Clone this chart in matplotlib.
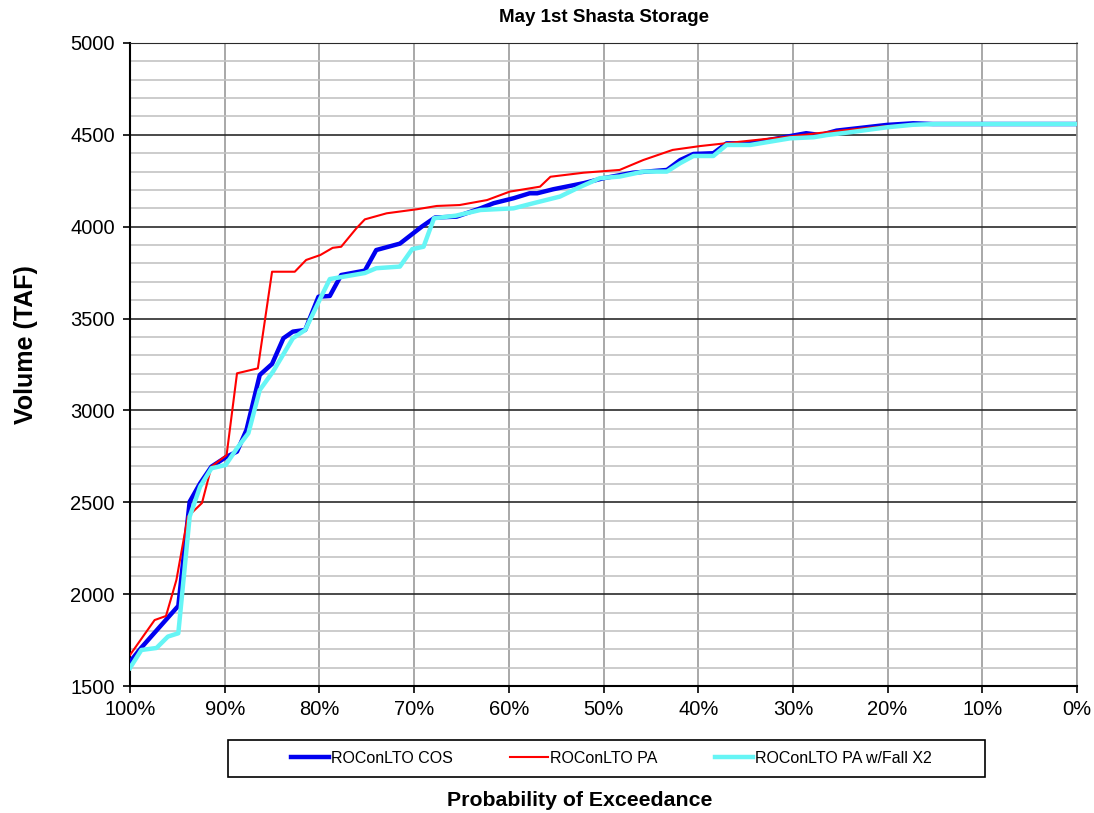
import numpy as np
from matplotlib import pyplot as plt
from matplotlib.ticker import MultipleLocator, FuncFormatter
from matplotlib.patches import Rectangle

plt.rcParams['font.family'] = ['Liberation Sans', 'DejaVu Sans']

# exceedance probability (%) and May 1st storage (TAF)
cos_pct = [100, 98.8, 94.9, 93.7, 92.6, 91.4, 89.8, 88.7, 87.7, 86.3, 85.0, 83.8,
           82.8, 81.5, 80.1, 78.9, 77.7, 75.2, 74.0, 71.5, 69.2, 67.8, 65.5, 63.0,
           61.6, 59.5, 57.8, 57.0, 55.3, 52.1, 50.0, 46.9, 43.3, 41.9, 40.5, 38.4,
           37.0, 34.5, 28.6, 27.1, 25.4, 20.1, 17.3, 15.2, 0]
cos_taf = [1632, 1709, 1936, 2503, 2603, 2694, 2748, 2776, 2894, 3193, 3253, 3393,
           3429, 3438, 3619, 3623, 3737, 3761, 3873, 3908, 4000, 4050, 4055, 4100,
           4128, 4155, 4182, 4182, 4204, 4237, 4264, 4294, 4309, 4363, 4396, 4400,
           4454, 4454, 4509, 4499, 4523, 4554, 4563, 4559, 4559]

pa_pct = [100, 97.4, 96.2, 95.1, 93.9, 92.4, 91.4, 89.8, 88.7, 86.5, 85.0, 82.6,
          81.4, 79.9, 78.6, 77.7, 76.1, 75.2, 72.9, 69.7, 67.6, 65.2, 62.3, 59.9,
          56.7, 55.6, 52.1, 48.3, 45.8, 42.7, 39.8, 36.6, 29.9, 25.0, 20.1, 16.0, 0]
pa_taf = [1669, 1859, 1881, 2077, 2422, 2496, 2694, 2757, 3202, 3229, 3755, 3755,
          3819, 3846, 3885, 3891, 3991, 4040, 4073, 4095, 4113, 4118, 4145, 4191,
          4218, 4272, 4294, 4309, 4363, 4418, 4439, 4457, 4494, 4523, 4548, 4555, 4555]

x2_pct = [100, 98.8, 97.2, 96.0, 94.9, 93.7, 92.6, 91.4, 89.9, 88.7, 87.5, 86.3,
          84.9, 82.8, 81.5, 79.9, 78.9, 75.2, 74.0, 71.5, 70.2, 69.0, 67.9, 65.6,
          63.0, 59.5, 57.4, 54.6, 52.8, 50.4, 48.3, 45.8, 43.3, 41.9, 40.5, 38.4,
          37.0, 34.5, 30.3, 27.8, 26.4, 24.3, 20.1, 17.3, 14.8, 0]
x2_taf = [1598, 1696, 1707, 1769, 1787, 2422, 2585, 2685, 2703, 2794, 2876, 3111,
          3211, 3393, 3438, 3610, 3715, 3748, 3774, 3783, 3878, 3891, 4046, 4060,
          4091, 4100, 4128, 4164, 4209, 4264, 4273, 4300, 4300, 4346, 4385, 4385,
          4445, 4445, 4481, 4487, 4499, 4512, 4541, 4555, 4559, 4559]

W, H = 1094, 813
fig = plt.figure(figsize=(W/100, H/100), dpi=100)
ax = fig.add_axes([130/W, 1-686/H, 947/W, 643/H])

ax.plot(cos_pct, cos_taf, color='#0000F0', lw=3.2, label='ROConLTO COS', zorder=3)
ax.plot(pa_pct, pa_taf, color='#FF0000', lw=1.5, label='ROConLTO PA', zorder=4)
ax.plot(x2_pct, x2_taf, color='#66F5F5', lw=3.2, label='ROConLTO PA w/Fall X2', zorder=5)

ax.set_xlim(100, 0)
ax.set_ylim(1500, 5000)
ax.xaxis.set_major_locator(MultipleLocator(10))
ax.xaxis.set_major_formatter(FuncFormatter(lambda v, p: f"{v:.0f}%"))
ax.yaxis.set_major_locator(MultipleLocator(500))
ax.yaxis.set_minor_locator(MultipleLocator(100))

ax.grid(which='minor', axis='y', color='#c4c4c4', lw=1.2)
ax.grid(which='major', axis='y', color='#2a2a2a', lw=1.2)
ax.grid(which='major', axis='x', color='#9a9a9a', lw=1.2)
ax.set_axisbelow(True)
ax.tick_params(which='minor', length=0)
ax.tick_params(which='major', direction='out', length=5, width=1.2, labelsize=14.5, colors='black')
ax.tick_params(axis='y', pad=6)
ax.tick_params(axis='x', pad=5)

for s in ['left', 'bottom']:
    ax.spines[s].set_color('black')
    ax.spines[s].set_linewidth(1.5)
ax.spines['top'].set_color('#2a2a2a')
ax.spines['right'].set_color('#9a9a9a')
ax.spines['right'].set_linewidth(1.2)

fig.text(604/W, 1-18/H, 'May 1st Shasta Storage', ha='center', va='center',
         fontsize=13.5, fontweight='bold')
fig.text(26/W, 1-345/H, 'Volume (TAF)', ha='center', va='center', rotation=90,
         fontsize=18, fontweight='bold')
fig.text(580/W, 1-800/H, 'Probability of Exceedance', ha='center', va='center',
         fontsize=15.3, fontweight='bold')

# legend box
fig.patches.append(Rectangle((228/W, 1-777/H), 757/W, 37/H, transform=fig.transFigure,
                             facecolor='white', edgecolor='black', lw=1.2))
leg = fig.legend(loc='center', bbox_to_anchor=(611/W, 1-758.5/H), ncol=3, fontsize=11.5,
                 frameon=False, handlelength=2.4, handletextpad=0.1, columnspacing=3.6,
                 borderaxespad=0)

fig.savefig('out.png', dpi=100)
